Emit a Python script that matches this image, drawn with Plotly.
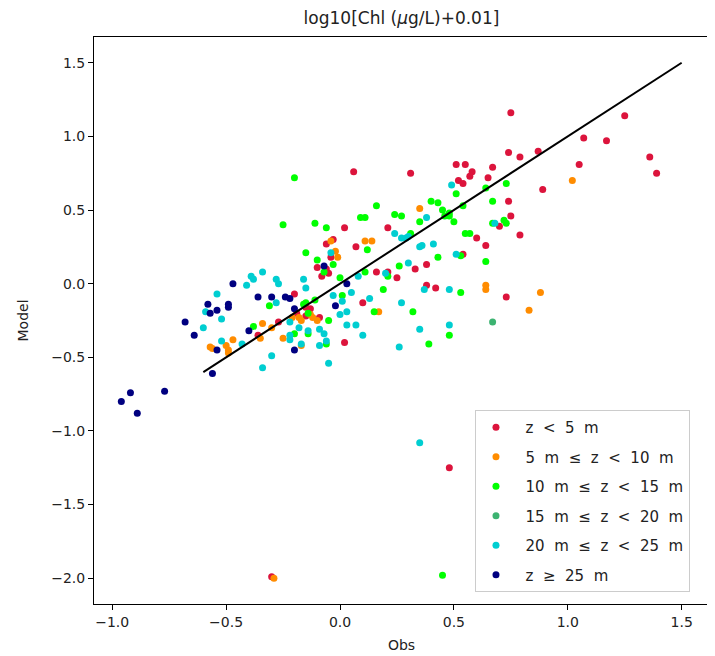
import plotly.graph_objects as go

# ---- data (Obs, Model) per depth class ----
red_x = [0.06, 0.02, -0.06, -0.03, -0.04, 0.07, -0.10, -0.06, -0.08, -0.05, 0.10, -0.15, -0.13, -0.15,
         -0.09, -0.19, -0.27, -0.36, -0.20, 0.02, 0.75, 0.74, 0.79, 0.87, 0.31, 0.51, 0.55, 0.58, 0.57,
         0.52, 0.54, 0.67, 0.65, 0.89, 0.74, 0.75, 0.70, 0.21, 0.60, 0.79, 0.64, 0.54, 0.33, 0.38, 0.16,
         0.21, 0.25, 0.38, 0.42, 0.73, 1.25, 1.07, 1.17, 1.05, 1.36, 1.39, 0.48, -0.30]
red_y = [0.76, 0.38, 0.27, 0.30, 0.18, 0.25, 0.11, 0.10, 0.05, 0.07, -0.13, -0.16, -0.17, -0.22,
         -0.23, -0.20, -0.26, -0.35, -0.07, -0.40, 1.16, 0.89, 0.86, 0.90, 0.75, 0.81, 0.81, 0.76, 0.73,
         0.70, 0.68, 0.79, 0.72, 0.64, 0.56, 0.46, 0.39, 0.38, 0.31, 0.33, 0.26, 0.20, 0.10, 0.13, 0.08,
         0.08, 0.04, -0.01, -0.03, -0.09, 1.14, 0.99, 0.97, 0.81, 0.86, 0.75, -1.25, -1.99]

orange_x = [0.11, 0.14, -0.04, -0.02, -0.01, -0.13, -0.12, -0.10, -0.18, -0.17, -0.21, -0.34, -0.30,
            -0.35, -0.25, -0.17, -0.47, -0.57, -0.56, -0.50, -0.49, -0.49, 0.35, 0.64, 0.64, 0.88,
            0.83, 0.17, 1.02, -0.29]
orange_y = [0.29, 0.29, 0.29, 0.22, 0.18, -0.21, -0.23, -0.25, -0.23, -0.25, -0.23, -0.27, -0.30,
            -0.37, -0.37, -0.42, -0.38, -0.43, -0.44, -0.42, -0.45, -0.47, 0.51, -0.01, -0.04, -0.06,
            -0.18, -0.19, 0.70, -2.00]

green_x = [-0.20, -0.25, -0.11, -0.06, -0.15, -0.10, -0.03, -0.07, 0.00, -0.31, -0.16, -0.15, -0.11,
           0.01, -0.14, -0.05, -0.38, -0.20, -0.14, -0.06, 0.73, 0.51, 0.64, 0.40, 0.43, 0.54, 0.67,
           0.16, 0.45, 0.48, 0.48, 0.46, 0.09, 0.11, 0.24, 0.27, 0.35, 0.50, 0.67, 0.72, 0.73, 0.31,
           0.55, 0.57, 0.12, 0.53, 0.43, 0.64, 0.26, 0.11, 0.21, 0.19, 0.53, 0.15, 0.32, 0.48, 0.39,
           0.45]
green_y = [0.72, 0.40, 0.41, 0.38, 0.21, 0.16, 0.13, 0.08, 0.04, -0.15, -0.14, -0.13, -0.11,
           -0.08, -0.20, -0.25, -0.29, -0.34, -0.34, -0.41, 0.68, 0.61, 0.65, 0.56, 0.55, 0.53, 0.56,
           0.53, 0.50, 0.48, 0.46, 0.46, 0.45, 0.45, 0.47, 0.46, 0.42, 0.42, 0.41, 0.43, 0.41, 0.34,
           0.34, 0.34, 0.23, 0.19, 0.18, 0.15, 0.12, 0.08, 0.05, -0.04, -0.06, -0.19, -0.19, -0.35,
           -0.41, -1.98]

teal_x = [0.67]
teal_y = [-0.26]

cyan_x = [-0.04, 0.08, -0.34, -0.39, -0.38, -0.41, -0.28, -0.27, -0.16, -0.15, -0.54, -0.59, -0.52,
          -0.60, -0.28, -0.03, 0.05, 0.01, 0.00, 0.03, -0.22, -0.18, -0.14, -0.22, -0.22, -0.09,
          -0.07, -0.06, -0.09, -0.17, 0.03, 0.07, 0.10, -0.05, -0.30, -0.34, -0.43, -0.52, 0.49,
          0.38, 0.68, 0.24, 0.27, 0.29, 0.30, 0.36, 0.35, 0.41, 0.51, 0.30, 0.20, 0.13, 0.27, 0.37,
          0.48, 0.35, 0.48, 0.26, 0.35]
cyan_y = [0.21, 0.05, 0.08, 0.05, 0.03, -0.01, 0.03, 0.00, 0.03, -0.03, -0.07, -0.19, -0.24,
          -0.30, -0.13, -0.08, -0.06, -0.12, -0.21, -0.19, -0.26, -0.30, -0.32, -0.35, -0.38, -0.31,
          -0.34, -0.39, -0.42, -0.41, -0.28, -0.28, -0.35, -0.54, -0.49, -0.57, -0.41, -0.39, 0.67,
          0.45, 0.41, 0.34, 0.31, 0.31, 0.32, 0.26, 0.25, 0.27, 0.20, 0.14, 0.07, -0.10, -0.13, -0.04,
          -0.04, -0.31, -0.28, -0.43, -1.08]

navy_x = [-0.07, 0.03, -0.47, -0.58, -0.57, -0.54, -0.49, -0.49, -0.68, -0.64, -0.36, -0.30, -0.24,
          -0.22, -0.20, -0.02, -0.40, -0.54, -0.20, -0.56, -0.96, -0.92, -0.89, -0.77]
navy_y = [0.12, 0.00, 0.00, -0.14, -0.20, -0.18, -0.16, -0.14, -0.26, -0.35, -0.09, -0.09, -0.09,
          -0.10, -0.17, -0.15, -0.32, -0.45, -0.45, -0.61, -0.80, -0.74, -0.88, -0.73]

line_x = [-0.6, 1.5]
line_y = [-0.6, 1.5]

NB = "\u00a0"
S = NB * 2
labels = [
    f"{S}z{S}<{S}5{S}m",
    f"{S}5{S}m{S}≤{S}z{S}<{S}10{S}m",
    f"{S}10{S}m{S}≤{S}z{S}<{S}15{S}m",
    f"{S}15{S}m{S}≤{S}z{S}<{S}20{S}m",
    f"{S}20{S}m{S}≤{S}z{S}<{S}25{S}m",
    f"{S}z{S}≥{S}25{S}m",
]
series_x = [red_x, orange_x, green_x, teal_x, cyan_x, navy_x]
series_y = [red_y, orange_y, green_y, teal_y, cyan_y, navy_y]
colors = ["#DC143C", "#FF8C00", "#00FF00", "#3CB371", "#00CED1", "#000080"]

xticks = [-1.0, -0.5, 0.0, 0.5, 1.0, 1.5]
yticks = [1.5, 1.0, 0.5, 0.0, -0.5, -1.0, -1.5, -2.0]

fig = go.Figure()
for i, (name, xs, ys, col) in enumerate(zip(labels, series_x, series_y, colors)):
    fig.add_trace(go.Scatter(x=xs, y=ys, mode="markers", name=name, legendgroup=f"g{i}",
                             marker=dict(color=col, size=7, line=dict(width=0))))
fig.add_trace(go.Scatter(x=line_x, y=line_y, mode="lines", showlegend=False,
                         line=dict(color="black", width=2)))

font = "DejaVu Sans, sans-serif"
fig.update_layout(
    width=715, height=656,
    margin=dict(l=86, r=14, t=29, b=60),
    paper_bgcolor="white", plot_bgcolor="white",
    font=dict(family=font, size=14, color="#222"),
    title=dict(text="log10[Chl (<i>μ</i>g/L)+0.01]", x=0.5, xref="paper",
               y=1 - 10 / 656, yref="container", yanchor="middle",
               font=dict(size=17, color="#222")),
    legend=dict(x=0.6195, y=0.021, xanchor="left", yanchor="bottom",
                bordercolor="#cccccc", borderwidth=1, bgcolor="white",
                font=dict(size=15, color="#222"), tracegroupgap=7),
    showlegend=True,
)
axis_common = dict(showline=True, linecolor="black", linewidth=1, mirror=True,
                   ticks="outside", ticklen=5, tickcolor="black", showgrid=False,
                   zeroline=False, tickfont=dict(size=14))
fig.update_xaxes(range=[-1.08, 1.62], tickvals=xticks,
                 ticktext=[f"{v:.1f}".replace("-", "−") for v in xticks],
                 title=dict(text="Obs", standoff=11, font=dict(size=14)), **axis_common)
fig.update_yaxes(range=[-2.175, 1.675], tickvals=yticks,
                 ticktext=[f"{v:.1f}".replace("-", "−") for v in yticks],
                 title=dict(text="Model", standoff=19, font=dict(size=14)), **axis_common)

fig.write_html("out.html")
